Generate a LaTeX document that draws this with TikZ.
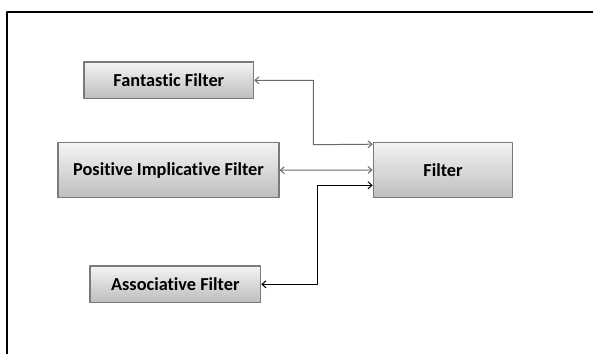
\documentclass[tikz,border=0pt]{standalone}
\usepackage{fontspec}
\setmainfont{Carlito}[Ligatures={NoCommon}]
\usetikzlibrary{arrows.meta}
\definecolor{boxtop}{HTML}{F4F4F4}
\definecolor{boxbot}{HTML}{BDBDBD}
\definecolor{boxline}{HTML}{7A7A7A}
\definecolor{linkgray}{HTML}{6A6A6A}
\begin{document}
\begin{tikzpicture}[x=1pt,y=-1pt,line join=round,
  filterbox/.style={draw=boxline,line width=1.2pt,top color=boxtop,bottom color=boxbot,
    inner sep=0pt,font=\fontsize{18.3}{21}\selectfont\bfseries},
  link/.style={draw=linkgray,line width=1pt,
    {Straight Barb[length=4pt,width=7pt]}-{Straight Barb[length=4pt,width=7pt]}}]
\useasboundingbox (0,0) rectangle (593,354);
\draw[line width=2pt] (7,354) -- (7,12) -- (593,12);

\node[filterbox,minimum width=169.7pt,minimum height=36.7pt] (fantastic) at (168.8,80.3) {Fantastic Filter};
\node[filterbox,minimum width=221pt,minimum height=55pt] (positive) at (168.5,170.2) {Positive Implicative Filter};
\node[filterbox,minimum width=170.7pt,minimum height=36.7pt] (associative) at (175.3,284.3) {Associative Filter};
\node[filterbox,minimum width=139.4pt,minimum height=55.4pt] (filter) at (443,170) {Filter};

\coordinate (fin1) at ([yshift=-2.5pt]filter.north west);
\coordinate (fin3) at ([yshift=-15.3pt]filter.west);
\coordinate (bend1) at (313.3,144.7);
\coordinate (bend3) at (317.3,185.3);

\draw[link] (fantastic.east) -| (bend1) -- (fin1);
\draw[link] (positive.east) -- (filter.west);
\draw[link,draw=black] (associative.east) -| (bend3) -- (fin3);
\end{tikzpicture}
\end{document}
